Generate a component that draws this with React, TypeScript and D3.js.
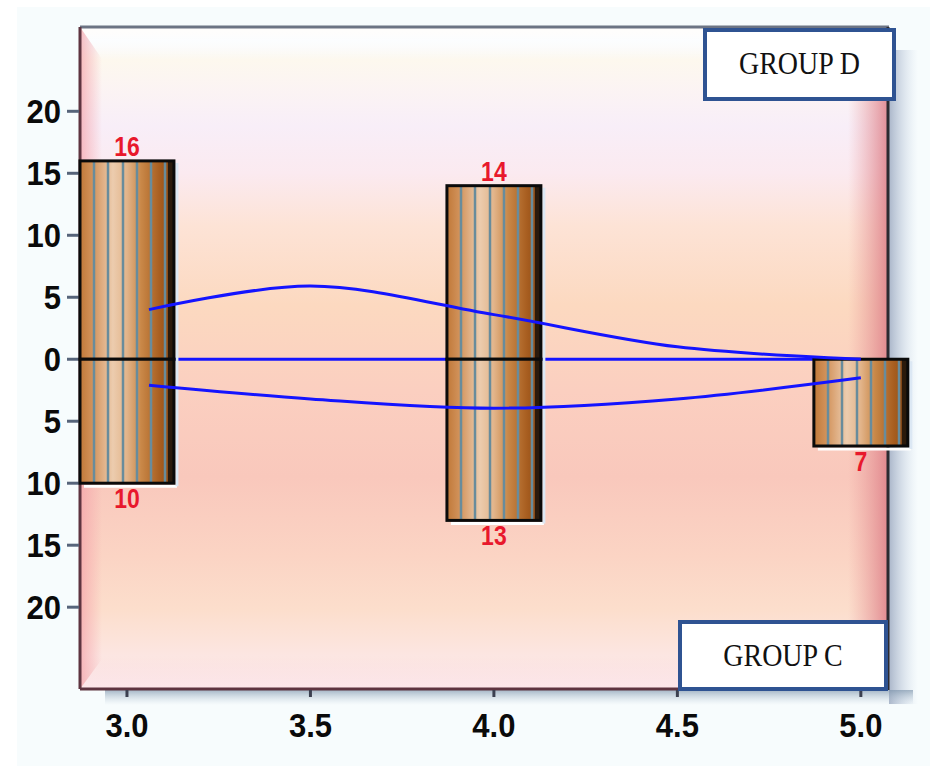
import React, { useEffect, useRef } from 'react';
import * as d3 from 'd3';

// bar centres and the two halves of each bar (upper / lower)
const categories = [3.0, 4.0, 5.0];
const upperValues = [16, 14, 0];
const lowerValues = [10, 13, 7];

// the two blue curves and the zero line
const curveX = [3.06, 3.5, 4.0, 4.5, 5.0];
const upperCurve = [4.0, 5.9, 3.6, 1.0, 0];
const lowerCurve = [-2.1, -3.2, -3.95, -3.2, -1.5];
const zeroLineX = [3.0, 5.0];

const yTicks = [-20, -15, -10, -5, 0, 5, 10, 15, 20];
const xTicks = [3.0, 3.5, 4.0, 4.5, 5.0];
const groupTop = 'GROUP D';
const groupBottom = 'GROUP C';

const W = 930;
const H = 766;

const App: React.FC = () => {
  const svgRef = useRef<SVGSVGElement>(null);

  useEffect(() => {
    if (!svgRef.current) return;
    const svg = d3.select(svgRef.current);
    svg.selectAll('*').remove();

    const plot = { left: 80, right: 888, top: 27, bottom: 689 };
    const x = d3.scaleLinear().domain([2.872, 5.074]).range([plot.left, plot.right]);
    const y = d3.scaleLinear().domain([-26.6, 26.8]).range([plot.bottom, plot.top]);
    const barHalf = 0.128;

    const defs = svg.append('defs');
    const linGrad = (id: string, x1: number, y1: number, x2: number, y2: number, stops: [number, string, number?][]) => {
      const g = defs.append('linearGradient').attr('id', id)
        .attr('gradientUnits', 'userSpaceOnUse')
        .attr('x1', x1).attr('y1', y1).attr('x2', x2).attr('y2', y2);
      stops.forEach(([o, c, op]) => g.append('stop').attr('offset', o).attr('stop-color', c).attr('stop-opacity', op ?? 1));
    };

    linGrad('bg', 0, plot.top, 0, plot.bottom, [
      [0, '#fdf6ee'], [0.02, '#f8fbff'], [0.05, '#fdf8ee'], [0.1, '#fbf3f4'],
      [0.15, '#f8eef8'], [0.22, '#fbeaf0'], [0.3, '#fde3d6'], [0.42, '#fcd9c0'],
      [0.55, '#fbcfc0'], [0.68, '#f9c8bc'], [0.8, '#fbd4c4'], [0.88, '#fcdecc'],
      [0.95, '#fce6e2'], [1, '#f9dede'],
    ]);
    linGrad('edgeL', plot.left, 0, plot.left + 22, 0, [[0, '#f4a0a8', 0.7], [1, '#f4a0a8', 0]]);
    linGrad('edgeR', plot.right, 0, plot.right - 40, 0, [[0, '#dc7c86', 0.85], [1, '#e89898', 0]]);
    linGrad('edgeT', 0, plot.top, 0, plot.top + 32, [[0, '#ffffff', 0.85], [1, '#ffffff', 0]]);
    linGrad('edgeB', 0, plot.bottom, 0, plot.bottom - 30, [[0, '#fde8ec', 0.9], [1, '#fde8ec', 0]]);
    linGrad('shadowR', plot.right + 1, 0, plot.right + 30, 0, [[0, '#7888a8', 0.6], [1, '#b8c8e0', 0]]);
    linGrad('shadowB', 0, plot.bottom + 1, 0, plot.bottom + 16, [[0, '#7890a8', 0.65], [1, '#b8c8d8', 0]]);

    const barGrad = defs.append('linearGradient').attr('id', 'bar')
      .attr('x1', 0).attr('y1', 0).attr('x2', 1).attr('y2', 0);
    [[0, '#c07838'], [0.15, '#d49660'], [0.35, '#ecccae'], [0.5, '#e2b48a'],
      [0.65, '#c98848'], [0.85, '#a85e20'], [1, '#8a4812']]
      .forEach(([o, c]) => barGrad.append('stop').attr('offset', o).attr('stop-color', c));

    // page backdrop
    svg.append('rect').attr('x', 17).attr('y', 7).attr('width', W - 17).attr('height', H - 7).attr('fill', '#f7fcfd');

    // drop shadows
    svg.append('rect').attr('x', plot.right + 1).attr('y', 50).attr('width', 30).attr('height', plot.bottom - 35)
      .attr('fill', 'url(#shadowR)');
    svg.append('rect').attr('x', 105).attr('y', plot.bottom + 1).attr('width', plot.right - 80).attr('height', 16)
      .attr('fill', 'url(#shadowB)');

    // plot background with bevel
    const pw = plot.right - plot.left;
    const ph = plot.bottom - plot.top;
    svg.append('rect').attr('x', plot.left).attr('y', plot.top).attr('width', pw).attr('height', ph).attr('fill', 'url(#bg)');
    const { left: L, right: R, top: T, bottom: B } = plot;
    svg.append('polygon').attr('points', `${L},${T} ${R},${T} ${R - 40},${T + 32} ${L + 22},${T + 32}`).attr('fill', 'url(#edgeT)');
    svg.append('polygon').attr('points', `${L},${B} ${R},${B} ${R - 40},${B - 30} ${L + 22},${B - 30}`).attr('fill', 'url(#edgeB)');
    svg.append('polygon').attr('points', `${L},${T} ${L + 22},${T + 32} ${L + 22},${B - 30} ${L},${B}`).attr('fill', 'url(#edgeL)');
    svg.append('polygon').attr('points', `${R},${T} ${R - 40},${T + 32} ${R - 40},${B - 30} ${R},${B}`).attr('fill', 'url(#edgeR)');

    // frame
    svg.append('line').attr('x1', L).attr('x2', R + 1).attr('y1', T).attr('y2', T).attr('stroke', '#6c7484').attr('stroke-width', 3);
    svg.append('line').attr('x1', L).attr('x2', L).attr('y1', T).attr('y2', B).attr('stroke', '#5e3440').attr('stroke-width', 3);
    svg.append('line').attr('x1', L).attr('x2', R).attr('y1', B).attr('y2', B).attr('stroke', '#5e3440').attr('stroke-width', 3);
    svg.append('line').attr('x1', R).attr('x2', R).attr('y1', T).attr('y2', B + 1).attr('stroke', '#2c2a30').attr('stroke-width', 3);

    // y axis ticks and labels (absolute values)
    const yAxis = svg.append('g');
    yTicks.forEach(t => {
      yAxis.append('line').attr('x1', 67).attr('x2', L - 1).attr('y1', y(t)).attr('y2', y(t))
        .attr('stroke', '#56647a').attr('stroke-width', 3);
      yAxis.append('text')
        .attr('transform', `translate(61, ${y(t) + 12}) scale(1, 1.08)`)
        .attr('text-anchor', 'end')
        .style('font-family', '"Liberation Sans", Arial, sans-serif')
        .style('font-weight', 'bold').style('font-size', '31px').style('fill', '#0a0a0a')
        .text(Math.abs(t));
    });

    // x axis ticks and labels
    const xAxis = svg.append('g');
    xTicks.forEach(t => {
      xAxis.append('line').attr('x1', x(t)).attr('x2', x(t)).attr('y1', B + 1).attr('y2', B + 8)
        .attr('stroke', '#3c4050').attr('stroke-width', 3);
      xAxis.append('text')
        .attr('transform', `translate(${x(t)}, 737) scale(1, 1.08)`)
        .attr('text-anchor', 'middle')
        .style('font-family', '"Liberation Sans", Arial, sans-serif')
        .style('font-weight', 'bold').style('font-size', '31px').style('fill', '#0a0a0a')
        .text(d3.format('.1f')(t));
    });

    // zero line sits behind the bars
    svg.append('line').attr('x1', x(zeroLineX[0])).attr('x2', x(zeroLineX[1])).attr('y1', y(0)).attr('y2', y(0))
      .attr('stroke', '#1414ff').attr('stroke-width', 3);

    // bars
    const stripeFr = [0.15, 0.3, 0.455, 0.605, 0.755, 0.91];
    const drawHalf = (g: d3.Selection<SVGGElement, unknown, null, undefined>, x0: number, x1: number, y0: number, y1: number) => {
      if (Math.abs(y1 - y0) < 0.5) return;
      const top = Math.min(y0, y1);
      const h = Math.abs(y1 - y0);
      const w = x1 - x0;
      g.append('rect').attr('x', x0).attr('y', top).attr('width', w).attr('height', h).attr('fill', 'url(#bar)');
      stripeFr.forEach(f => {
        const sx = Math.round(x0 + f * w);
        g.append('line').attr('x1', sx).attr('x2', sx).attr('y1', top).attr('y2', top + h)
          .attr('stroke', '#688c9c').attr('stroke-width', 2.5);
      });
      g.append('rect').attr('x', x1 - 6).attr('y', top).attr('width', 6).attr('height', h).attr('fill', '#2a1a0c');
      g.append('rect').attr('x', x0).attr('y', top).attr('width', w).attr('height', h)
        .attr('fill', 'none').attr('stroke', '#0a0a0a').attr('stroke-width', 3);
    };

    categories.forEach((c, i) => {
      const g = svg.append('g');
      const x0 = x(c - barHalf);
      const x1 = x(c + barHalf);
      const yUp = y(upperValues[i]);
      const yDown = y(-lowerValues[i]);
      // light edge under/right of the bar
      g.append('line').attr('x1', x0 + 4).attr('x2', x1 + 3).attr('y1', yDown + 3).attr('y2', yDown + 3)
        .attr('stroke', '#ffffff').attr('stroke-width', 3);
      g.append('line').attr('x1', x1 + 3).attr('x2', x1 + 3).attr('y1', yUp + 2).attr('y2', yDown + 3)
        .attr('stroke', '#dce8f4').attr('stroke-width', 3);
      drawHalf(g, x0, x1, y(0), yUp);
      drawHalf(g, x0, x1, y(0), yDown);

      const labelStyle = (t: d3.Selection<SVGTextElement, unknown, null, undefined>) => t
        .attr('text-anchor', 'middle')
        .style('font-family', '"Liberation Sans", Arial, sans-serif')
        .style('font-weight', 'bold').style('font-size', '23px').style('fill', '#e8182c');
      if (upperValues[i] > 0) {
        labelStyle(g.append('text').attr('transform', `translate(${x(c)}, ${yUp - 5}) scale(1, 1.2)`)).text(upperValues[i]);
      }
      if (lowerValues[i] > 0) {
        labelStyle(g.append('text').attr('transform', `translate(${x(c)}, ${yDown + 25}) scale(1, 1.2)`)).text(lowerValues[i]);
      }
    });

    // blue curves drawn over the bars
    const line = d3.line<number>()
      .x((_, i) => x(curveX[i]))
      .y(d => y(d))
      .curve(d3.curveCatmullRom.alpha(0.5));
    [upperCurve, lowerCurve].forEach(series => {
      svg.append('path').attr('d', line(series) || '')
        .attr('fill', 'none').attr('stroke', '#1414ff').attr('stroke-width', 3);
    });

    // group boxes
    const groupBox = (label: string, bx: number, by: number, bw: number, bh: number, baseline: number) => {
      svg.append('rect').attr('x', bx + 2).attr('y', by + 2).attr('width', bw - 4).attr('height', bh - 4)
        .attr('fill', '#ffffff').attr('stroke', '#2f5392').attr('stroke-width', 4);
      svg.append('text')
        .attr('transform', `translate(${bx + bw / 2}, ${baseline}) scale(1, 1.15)`)
        .attr('text-anchor', 'middle')
        .style('font-family', '"Liberation Serif", "Times New Roman", serif')
        .style('font-size', '28px').style('fill', '#111111')
        .text(label);
    };
    groupBox(groupTop, 703, 28, 193, 73, 74);
    groupBox(groupBottom, 678, 620, 210, 71, 666);
  }, []);

  return <svg ref={svgRef} width={W} height={H} style={{ position: 'absolute', left: 0, top: 0 }} />;
};

export default App;
